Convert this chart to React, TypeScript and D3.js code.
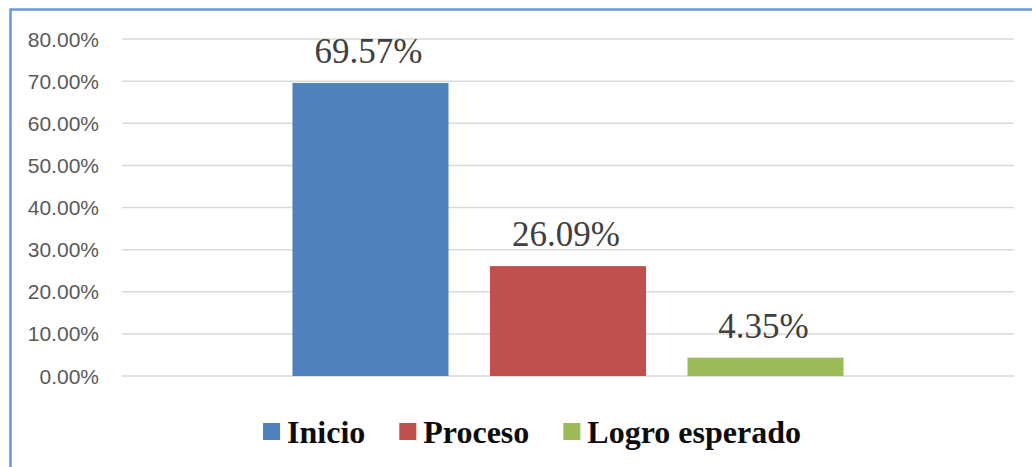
import React, { useRef, useEffect } from "react";
import * as d3 from "d3";

const series = ["Inicio", "Proceso", "Logro esperado"];
const values = [69.57, 26.09, 4.35];
const colors = ["#4f81bd", "#c0504d", "#9bbb59"];
const yTicks = [0, 10, 20, 30, 40, 50, 60, 70, 80];

const W = 1032;
const H = 467;

const App: React.FC = () => {
  const svgRef = useRef<SVGSVGElement | null>(null);

  useEffect(() => {
    if (!svgRef.current) return;
    const svg = d3.select(svgRef.current);
    svg.selectAll("*").remove();

    // chart frame (only left and top edges show in the crop)
    svg
      .append("rect")
      .attr("x", 10.5)
      .attr("y", 9.5)
      .attr("width", W + 40)
      .attr("height", H + 40)
      .attr("fill", "white")
      .attr("stroke", "#6a98d2")
      .attr("stroke-width", 2.5);

    const y = d3.scaleLinear().domain([0, 80]).range([376, 39]);
    const x = d3
      .scaleBand<string>()
      .domain(series)
      .range([122, 1014])
      .paddingInner(0.21)
      .paddingOuter(0.863);

    // gridlines
    svg
      .append("g")
      .selectAll("line")
      .data(yTicks)
      .join("line")
      .attr("x1", 122)
      .attr("x2", 1014)
      .attr("y1", (d) => y(d))
      .attr("y2", (d) => y(d))
      .attr("stroke", "#d9d9d9")
      .attr("stroke-width", 1.5);

    // y tick labels
    svg
      .append("g")
      .selectAll("text")
      .data(yTicks)
      .join("text")
      .attr("x", 99)
      .attr("y", (d) => y(d))
      .attr("dy", "0.36em")
      .attr("text-anchor", "end")
      .attr("font-family", "'Liberation Sans', Arial, sans-serif")
      .attr("font-size", 21)
      .attr("fill", "#595959")
      .text((d) => d3.format(".2f")(d) + "%");

    // bars
    svg
      .append("g")
      .selectAll("rect")
      .data(values)
      .join("rect")
      .attr("x", (_, i) => x(series[i])!)
      .attr("y", (d) => y(d))
      .attr("width", x.bandwidth())
      .attr("height", (d) => y(0) - y(d))
      .attr("fill", (_, i) => colors[i]);

    // data labels
    svg
      .append("g")
      .selectAll("text")
      .data(values)
      .join("text")
      .attr("x", (_, i) => x(series[i])! + x.bandwidth() / 2 - 2)
      .attr("y", (d) => y(d) - 20)
      .attr("text-anchor", "middle")
      .attr("font-family", "'Liberation Serif', 'Times New Roman', serif")
      .attr("font-size", 35)
      .attr("fill", "#404040")
      .text((d) => d3.format(".2f")(d) + "%");

    // legend, centred under the plot
    const legend = svg.append("g");
    const sw = 17;
    const gapText = 7;
    const gapItem = 34;
    let cx = 0;
    series.forEach((s, i) => {
      const g = legend.append("g");
      g.append("rect")
        .attr("x", 0)
        .attr("y", -20)
        .attr("width", sw)
        .attr("height", sw)
        .attr("fill", colors[i]);
      const t = g
        .append("text")
        .attr("x", sw + gapText)
        .attr("y", 0)
        .attr("font-family", "'Liberation Serif', 'Times New Roman', serif")
        .attr("font-weight", "bold")
        .attr("font-size", 32)
        .attr("fill", "#0d0d0d")
        .text(s);
      const tw = (t.node() as SVGTextElement).getComputedTextLength();
      g.attr("transform", `translate(${cx},0)`);
      cx += sw + gapText + tw + gapItem;
    });
    const total = cx - gapItem;
    legend.attr("transform", `translate(${532 - total / 2},443)`);
  }, []);

  return (
    <svg
      ref={svgRef}
      width={W}
      height={H}
      style={{ position: "absolute", left: 0, top: 0, background: "white" }}
    />
  );
};

export default App;
